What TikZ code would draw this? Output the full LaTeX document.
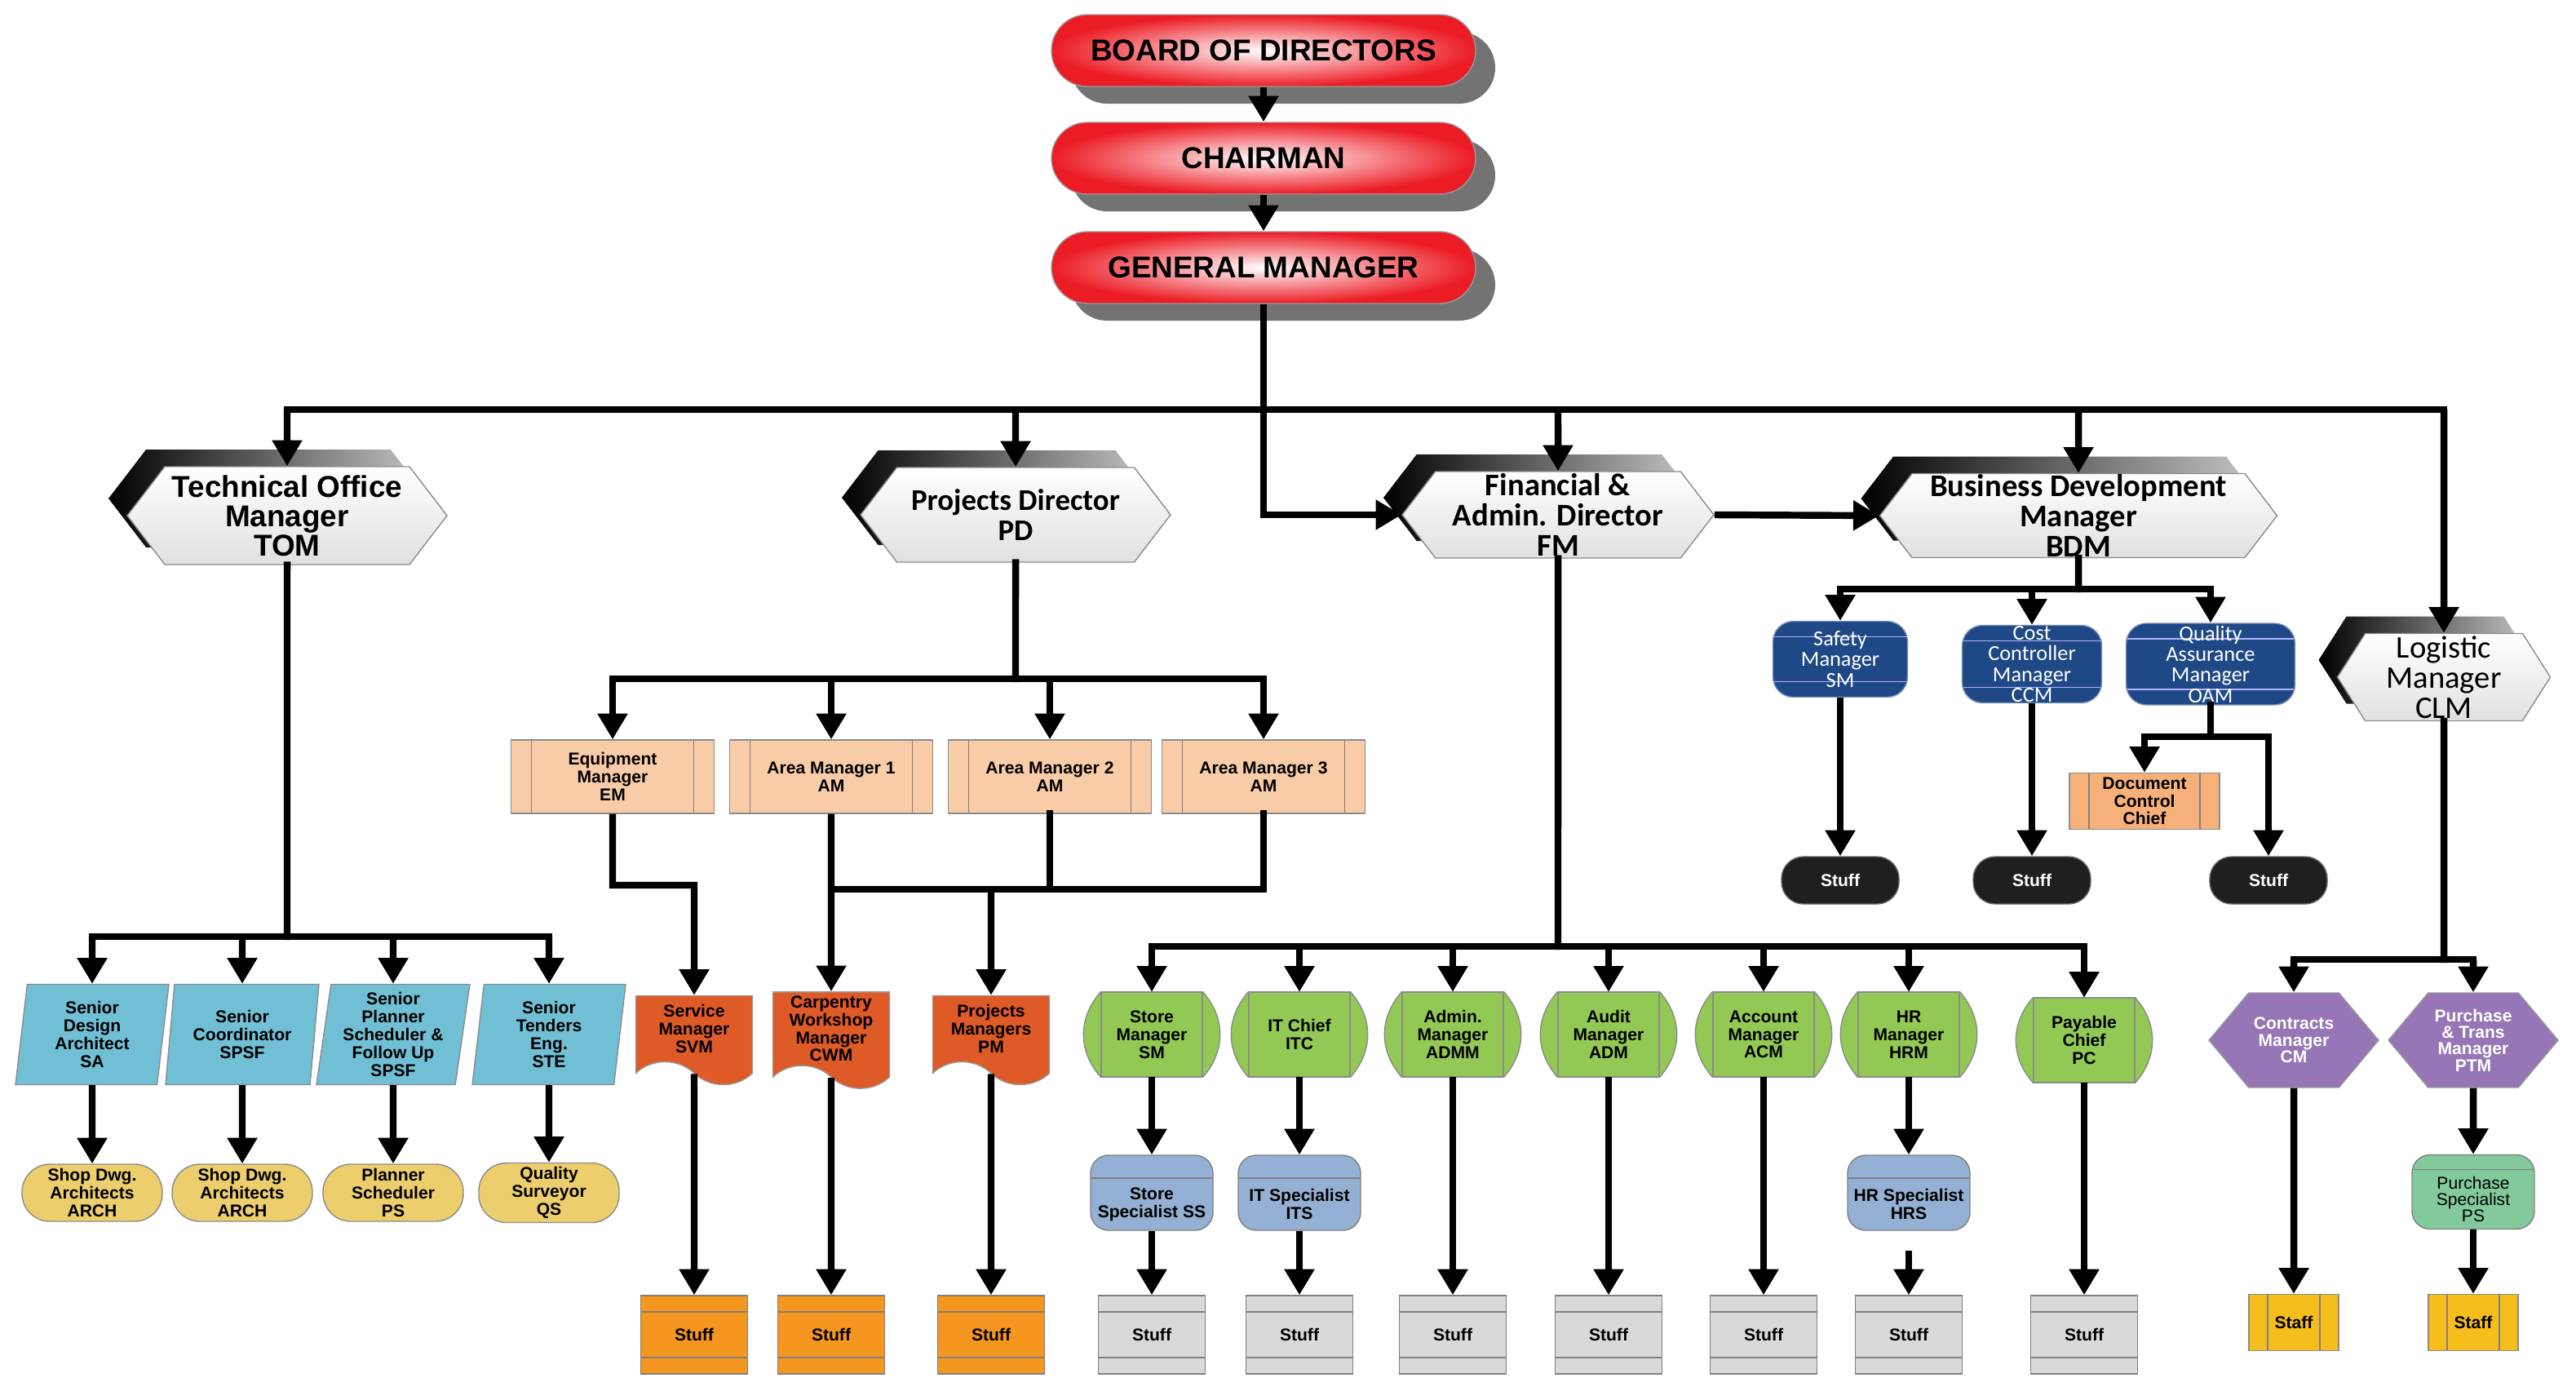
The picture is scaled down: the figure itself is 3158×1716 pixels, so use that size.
\documentclass[tikz,border=0pt]{standalone}
\usepackage{fontspec}
\setmainfont{Liberation Sans}
\newfontfamily\calibri{Carlito}
\usetikzlibrary{arrows.meta}
\usetikzlibrary{shapes.geometric}
\usetikzlibrary{shapes.symbols}
\usetikzlibrary{shadows}
\usetikzlibrary{backgrounds}

\definecolor{boardred}{RGB}{236,28,36}
\definecolor{tealbox}{RGB}{113,191,212}
\definecolor{sandoval}{RGB}{236,206,108}
\definecolor{peach}{RGB}{249,204,168}
\definecolor{dccpeach}{RGB}{246,176,122}
\definecolor{rust}{RGB}{222,90,38}
\definecolor{amber}{RGB}{245,150,30}
\definecolor{leaf}{RGB}{146,200,84}
\definecolor{steel}{RGB}{148,176,212}
\definecolor{ash}{RGB}{217,217,217}
\definecolor{navy}{RGB}{30,72,134}
\definecolor{plum}{RGB}{150,118,182}
\definecolor{mint}{RGB}{130,202,156}
\definecolor{gold}{RGB}{246,190,28}

\tikzset{
  every node/.style = {font=\bfseries\fontsize{6}{6.2}\selectfont, align=center, inner sep=0.5mm}
}
\tikzset{
  >={Triangle[width=10pt,length=9pt]}
}
\tikzset{
  link/.style = {line width=2.4pt, line cap=rect},
  arr/.style = {line width=2.4pt, ->}
}
\tikzset{
  vbars/.style = {path picture={
    \draw[black!50] ([xshift=#1]path picture bounding box.north west) -- ([xshift=#1]path picture bounding box.south west)
      ([xshift=-#1]path picture bounding box.north east) -- ([xshift=-#1]path picture bounding box.south east);}},
  hbars/.style 2 args = {path picture={
    \draw[#2] ([yshift=-#1]path picture bounding box.north west) -- ([yshift=-#1]path picture bounding box.north east)
      ([yshift=#1]path picture bounding box.south west) -- ([yshift=#1]path picture bounding box.south east);}},
  topbar/.style = {path picture={
    \draw[black!50] ([yshift=-#1]path picture bounding box.north west) -- ([yshift=-#1]path picture bounding box.north east);}}
}
\tikzset{
  pill/.style = {rectangle, rounded corners=4.4mm, minimum width=52mm, minimum height=8.8mm,
    draw=black!40, inner color=white, outer color=boardred,
    general shadow={fill=black!55, shadow xshift=2.4mm, shadow yshift=-2.1mm},
    font=\bfseries\fontsize{10.5}{12}\selectfont},
  hexa/.style = {shape=signal, signal to=west and east, signal pointer angle=105, inner sep=0pt,
    draw=black!45, top color=white, bottom color=black!12,
    general shadow={left color=black, right color=black!22, shadow xshift=-2.3mm, shadow yshift=2.1mm},
    font=\calibri\bfseries\fontsize{11}{10.6}\selectfont},
  para/.style = {trapezium, trapezium left angle=81, trapezium right angle=99, trapezium stretches body,
    minimum width=18.8mm, minimum height=12.3mm, fill=tealbox, draw=black!45},
  pod/.style = {rectangle, rounded corners=3.4mm, minimum width=17.2mm, minimum height=7mm,
    fill=sandoval, draw=black!45},
  deskbox/.style = {rectangle, minimum width=24.9mm, minimum height=9mm, fill=peach, draw=black!45, vbars=2.5mm},
  docshape/.style = {tape, tape bend top=none, tape bend bottom=out and in, tape bend height=2.8mm,
    minimum width=14.3mm, minimum height=10.9mm, fill=rust, draw=black!40},
  stock/.style = {rectangle, minimum width=13.1mm, minimum height=9.6mm, draw=black!50, hbars={2mm}{black!50}},
  drum/.style = {rectangle, minimum width=12.4mm, minimum height=10.3mm, draw=black!45},
  spec/.style = {rectangle, rounded corners=2.2mm, minimum width=15mm, minimum height=9.2mm,
    fill=steel, draw=black!50, topbar=2.8mm},
  spectext/.style = {align=center, yshift=-1.4mm},
  tile/.style = {rectangle, rounded corners=2.5mm, inner sep=0pt, fill=navy, draw=navy!60, text=white,
    font=\calibri\fontsize{7.5}{7.2}\selectfont, hbars={1.9mm}{blue!30!white}},
  blot/.style = {rectangle, rounded corners=2.7mm, minimum width=14.4mm, minimum height=5.8mm,
    fill=black!88, draw=black!60, text=white},
  gem/.style = {shape=signal, signal to=west and east, signal pointer angle=100, inner sep=0pt,
    minimum width=20.8mm, minimum height=11.6mm, fill=plum, draw=black!40, text=white,
    font=\bfseries\fontsize{6}{5.8}\selectfont},
  crate/.style = {rectangle, minimum width=11mm, minimum height=6.9mm, fill=gold, draw=black!45, vbars=2.3mm}
}

\begin{document}
\begin{tikzpicture}[x=0.1mm, y=-0.1mm]
  \useasboundingbox (0,0) rectangle (3158,1716);

  \node[pill] (board) at (1549,62) {BOARD OF DIRECTORS};
  \node[pill] (chair) at (1549,194) {CHAIRMAN};
  \node[pill] (gm) at (1549,328) {GENERAL MANAGER};
  \draw[arr] (board) -- (chair);
  \draw[arr] (chair) -- (gm);

  \node[hexa, font=\bfseries\fontsize{10.5}{10.2}\selectfont, minimum width=39.2mm, minimum height=12mm]
    (tom) at (352,632) {Technical Office\\Manager\\TOM};
  \node[hexa, font=\calibri\bfseries\fontsize{10.5}{10.6}\selectfont, minimum width=38mm, minimum height=11.6mm]
    (pd) at (1245,631) {Projects Director\\PD};
  \node[hexa, minimum width=38.2mm, minimum height=10.6mm] (fm) at (1910,631) {Financial \&\\Admin. Director\\FM};
  \node[hexa, minimum width=48.7mm, minimum height=10.3mm] (bdm) at (2548,632) {Business Development\\Manager\\BDM};
  \node[hexa, signal pointer angle=115, font=\calibri\fontsize{11}{10.5}\selectfont, minimum width=26.1mm, minimum height=10.7mm]
    (clm) at (2996,830) {Logistic\\Manager\\CLM};

  \coordinate (bus1) at (0,502);
  \draw[link] (tom |- bus1) -- (clm |- bus1);
  \foreach \n in {tom,pd,fm,bdm,clm}
    \draw[arr] (\n |- bus1) -- (\n);
  \draw[arr] (gm) |- (fm.west);
  \draw[arr] (fm.east) -- (bdm.west);

  % technical office
  \coordinate (bus2) at (0,1148);
  \node[para] (sda) at (113,1268) {Senior\\Design\\Architect\\SA};
  \node[para] (sco) at (297,1268) {Senior\\Coordinator\\SPSF};
  \node[para] (spl) at (482,1268) {Senior\\Planner\\Scheduler \&\\Follow Up\\SPSF};
  \node[para] (ste) at (673,1268) {Senior\\Tenders\\Eng.\\STE};
  \node[pod] (arch1) at (113,1462) {Shop Dwg.\\Architects\\ARCH};
  \node[pod] (arch2) at (297,1462) {Shop Dwg.\\Architects\\ARCH};
  \node[pod] (plsc) at (482,1462) {Planner\\Scheduler\\PS};
  \node[pod] (qsv) at (673,1462) {Quality\\Surveyor\\QS};
  \draw[link] (tom) -- (tom |- bus2);
  \draw[link] (sda |- bus2) -- (ste |- bus2);
  \foreach \a/\b in {sda/arch1, sco/arch2, spl/plsc, ste/qsv} {
    \draw[arr] (\a |- bus2) -- (\a);
    \draw[arr] (\a) -- (\b);
  }

  % projects
  \coordinate (bus3) at (0,832);
  \coordinate (bus4) at (0,1090);
  \coordinate (jog) at (0,1085);
  \node[deskbox] (em) at (751,952) {Equipment\\Manager\\EM};
  \node[deskbox] (am1) at (1019,952) {Area Manager 1\\AM};
  \node[deskbox] (am2) at (1287,952) {Area Manager 2\\AM};
  \node[deskbox] (am3) at (1549,952) {Area Manager 3\\AM};
  \draw[link] (pd) -- (pd |- bus3);
  \draw[link] (em |- bus3) -- (am3 |- bus3);
  \foreach \n in {em,am1,am2,am3}
    \draw[arr] (\n |- bus3) -- (\n);
  \node[docshape] (svm) at (851,1261) {Service\\Manager\\SVM};
  \node[docshape] (cwm) at (1019,1261) {Carpentry\\Workshop\\Manager\\CWM};
  \node[docshape] (pm) at (1215,1261) {Projects\\Managers\\PM};
  \draw[arr] (em) |- (svm |- jog) -- (svm);
  \draw[arr] (am1) -- (cwm);
  \draw[link] (am2) -- (am2 |- bus4);
  \draw[link] (am3) -- (am3 |- bus4);
  \draw[link] (am1 |- bus4) -- (am3 |- bus4);
  \draw[arr] (pm |- bus4) -- (pm);
  \node[stock, fill=amber] (o1) at (851,1636) {Stuff};
  \node[stock, fill=amber] (o2) at (1019,1636) {Stuff};
  \node[stock, fill=amber] (o3) at (1215,1636) {Stuff};
  \foreach \a/\b in {svm/o1, cwm/o2, pm/o3}
    \draw[arr] (\a) -- (\b);

  % financial
  \coordinate (bus5) at (0,1160);
  \node[drum] (stm) at (1412,1268) {Store\\Manager\\SM};
  \node[drum] (itc) at (1593,1268) {IT Chief\\ITC};
  \node[drum] (admm) at (1781,1268) {Admin.\\Manager\\ADMM};
  \node[drum] (adm) at (1972,1268) {Audit\\Manager\\ADM};
  \node[drum] (acm) at (2162,1268) {Account\\Manager\\ACM};
  \node[drum] (hrm) at (2340,1268) {HR\\Manager\\HRM};
  \node[drum] (pc) at (2555,1275) {Payable\\Chief\\PC};
  \node[spec, label={[spectext]center:Store\\Specialist SS}] (ss) at (1412,1462) {};
  \node[spec, label={[spectext]center:IT Specialist\\ITS}] (its) at (1593,1462) {};
  \node[spec, label={[spectext]center:HR Specialist\\HRS}] (hrs) at (2340,1462) {};
  \node[stock, fill=ash] (g1) at (1412,1636) {Stuff};
  \node[stock, fill=ash] (g2) at (1593,1636) {Stuff};
  \node[stock, fill=ash] (g3) at (1781,1636) {Stuff};
  \node[stock, fill=ash] (g4) at (1972,1636) {Stuff};
  \node[stock, fill=ash] (g5) at (2162,1636) {Stuff};
  \node[stock, fill=ash] (g6) at (2340,1636) {Stuff};
  \node[stock, fill=ash] (g7) at (2555,1636) {Stuff};
  \draw[link] (fm) -- (fm |- bus5);
  \draw[link] (stm |- bus5) -- (pc |- bus5);
  \foreach \n in {stm,itc,admm,adm,acm,hrm,pc}
    \draw[arr] (\n |- bus5) -- (\n);
  \foreach \a/\b in {stm/ss, itc/its, hrm/hrs, ss/g1, its/g2, admm/g3, adm/g4, acm/g5, pc/g7}
    \draw[arr] (\a) -- (\b);
  \draw[arr, shorten <=2.4mm] (hrs) -- (g6);

  % business development
  \coordinate (bus6) at (0,722);
  \coordinate (bus7) at (0,903);
  \node[tile, minimum width=16.5mm, minimum height=9.3mm] (sfm) at (2256,808) {Safety\\Manager\\SM};
  \node[tile, minimum width=17.1mm, minimum height=9.5mm] (ccm) at (2491,814) {Cost\\Controller\\Manager\\CCM};
  \node[tile, minimum width=20.7mm, minimum height=10mm] (qam) at (2710,814) {Quality\\Assurance\\Manager\\OAM};
  \node[deskbox, fill=dccpeach, minimum width=18.4mm, minimum height=6.9mm, vbars=2.4mm] (dcc) at (2629,982) {Document\\Control\\Chief};
  \node[blot] (k1) at (2256,1079) {Stuff};
  \node[blot] (k2) at (2491,1079) {Stuff};
  \node[blot] (k3) at (2781,1079) {Stuff};
  \draw[link] (bdm) -- (bdm |- bus6);
  \draw[link] (sfm |- bus6) -- (qam |- bus6);
  \foreach \n in {sfm,ccm,qam}
    \draw[arr] (\n |- bus6) -- (\n);
  \draw[arr] (sfm) -- (k1);
  \draw[arr] (ccm) -- (k2);
  \draw[link] (qam) -- (qam |- bus7);
  \draw[link] (dcc |- bus7) -- (k3 |- bus7);
  \draw[arr] (dcc |- bus7) -- (dcc);
  \draw[arr] (k3 |- bus7) -- (k3);

  % logistic
  \coordinate (bus8) at (0,1176);
  \node[gem] (cm) at (2812,1275) {Contracts\\Manager\\CM};
  \node[gem] (ptm) at (3032,1275) {Purchase\\\& Trans\\Manager\\PTM};
  \node[spec, fill=mint, minimum width=15mm, minimum height=9.1mm, topbar=1.8mm,
    label={[align=center, yshift=-0.9mm, font=\fontsize{6}{5.8}\selectfont]center:Purchase\\Specialist\\PS}] (ps) at (3032,1461) {};
  \node[crate] (f1) at (2812,1621) {Staff};
  \node[crate] (f2) at (3032,1621) {Staff};
  \draw[link] (clm) -- (clm |- bus8);
  \draw[link] (cm |- bus8) -- (ptm |- bus8);
  \foreach \n in {cm,ptm}
    \draw[arr] (\n |- bus8) -- (\n);
  \draw[arr] (cm) -- (f1);
  \draw[arr] (ptm) -- (ps);
  \draw[arr] (ps) -- (f2);

  \begin{scope}[on background layer]
    \foreach \n in {stm,itc,admm,adm,acm,hrm,pc}
      \draw[black!45, fill=leaf]
        (\n.north west) .. controls +(-2.8mm,-3.2mm) and +(-2.8mm,3.2mm) .. (\n.south west)
        -- (\n.south east) .. controls +(2.8mm,3.2mm) and +(2.8mm,-3.2mm) .. (\n.north east) -- cycle;
  \end{scope}
\end{tikzpicture}
\end{document}
